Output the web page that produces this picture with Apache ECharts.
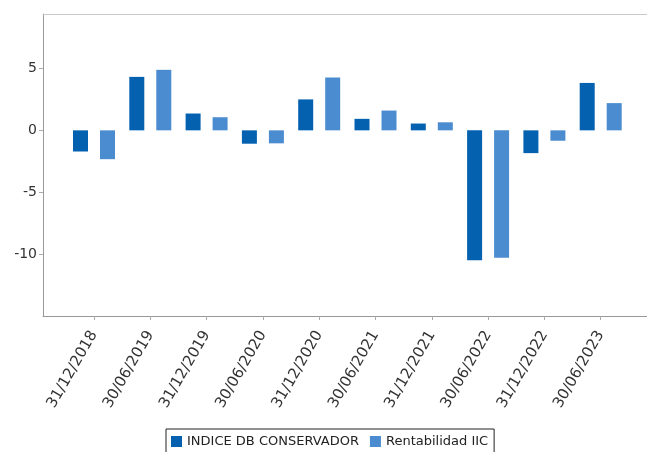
<!DOCTYPE html>
<html>
<head>
<meta charset="utf-8">
<script src="https://cdn.jsdelivr.net/npm/echarts@6/dist/echarts.min.js"></script>
<style>
html,body{margin:0;padding:0;background:#fff;}
#chart{width:647px;height:452px;}
</style>
</head>
<body>
<div id="chart"></div>
<script>
var categories = ['31/12/2018','30/06/2019','31/12/2019','30/06/2020','31/12/2020','30/06/2021','31/12/2021','30/06/2022','31/12/2022','30/06/2023'];
var indiceDB = [-1.71, 4.32, 1.36, -1.08, 2.5, 0.93, 0.55, -10.5, -1.84, 3.83];
var rentabilidad = [-2.33, 4.89, 1.06, -1.05, 4.27, 1.6, 0.65, -10.3, -0.84, 2.2];
var yTicks = [-10, -5, 0, 5];

var chart = echarts.init(document.getElementById('chart'), null, {renderer: 'canvas'});
var font = 'DejaVu Sans';
function frameAxis(extra, color) {
  return Object.assign({
    gridIndex: 0, type: 'value', min: 0, max: 1,
    axisLine: {show: true, onZero: false, lineStyle: {color: color, width: 1}},
    axisTick: {show: false}, axisLabel: {show: false}, splitLine: {show: false}
  }, extra);
}
chart.setOption({
  animation: false,
  backgroundColor: '#fff',
  legend: {
    top: 429, left: 166,
    padding: [6, 6, 8, 5],
    itemWidth: 11, itemHeight: 11, itemGap: 11,
    borderColor: '#222', borderWidth: 1,
    icon: 'rect',
    textStyle: {fontFamily: font, fontSize: 13, color: '#222'},
    data: ['INDICE DB CONSERVADOR', 'Rentabilidad IIC']
  },
  grid: [
    {left: 43, top: 14, right: 0, bottom: 136, containLabel: false},
    {left: 65.85, top: 14, right: 18.15, bottom: 136, containLabel: false}
  ],
  xAxis: [
    frameAxis({position: 'bottom'}, '#999'),
    {
      gridIndex: 1, type: 'category', data: categories, position: 'bottom',
      axisLine: {show: false, onZero: false},
      axisTick: {show: true, alignWithLabel: true, length: 4, lineStyle: {color: '#aaa'}},
      axisLabel: {rotate: 60, fontFamily: font, fontSize: 15, color: '#333', margin: 16, interval: 0},
      splitLine: {show: false}
    },
    frameAxis({position: 'top'}, '#c8c8c8')
  ],
  yAxis: [
    frameAxis({position: 'left'}, '#999'),
    {
      gridIndex: 1, type: 'value', min: -15, max: 9.4, interval: 5,
      offset: 22.85,
      axisLine: {show: false},
      axisTick: {show: true, length: 4, customValues: yTicks, lineStyle: {color: '#aaa'}},
      axisLabel: {fontFamily: font, fontSize: 14, color: '#333', margin: 6, customValues: yTicks},
      splitLine: {show: false}
    }
  ],
  series: [
    {name: 'INDICE DB CONSERVADOR', type: 'bar', xAxisIndex: 1, yAxisIndex: 1, data: indiceDB, barWidth: 15, barGap: '80%', itemStyle: {color: '#0461B0'}},
    {name: 'Rentabilidad IIC', type: 'bar', xAxisIndex: 1, yAxisIndex: 1, data: rentabilidad, barWidth: 15, barGap: '80%', itemStyle: {color: '#4A8CCF'}}
  ]
});
</script>
</body>
</html>
